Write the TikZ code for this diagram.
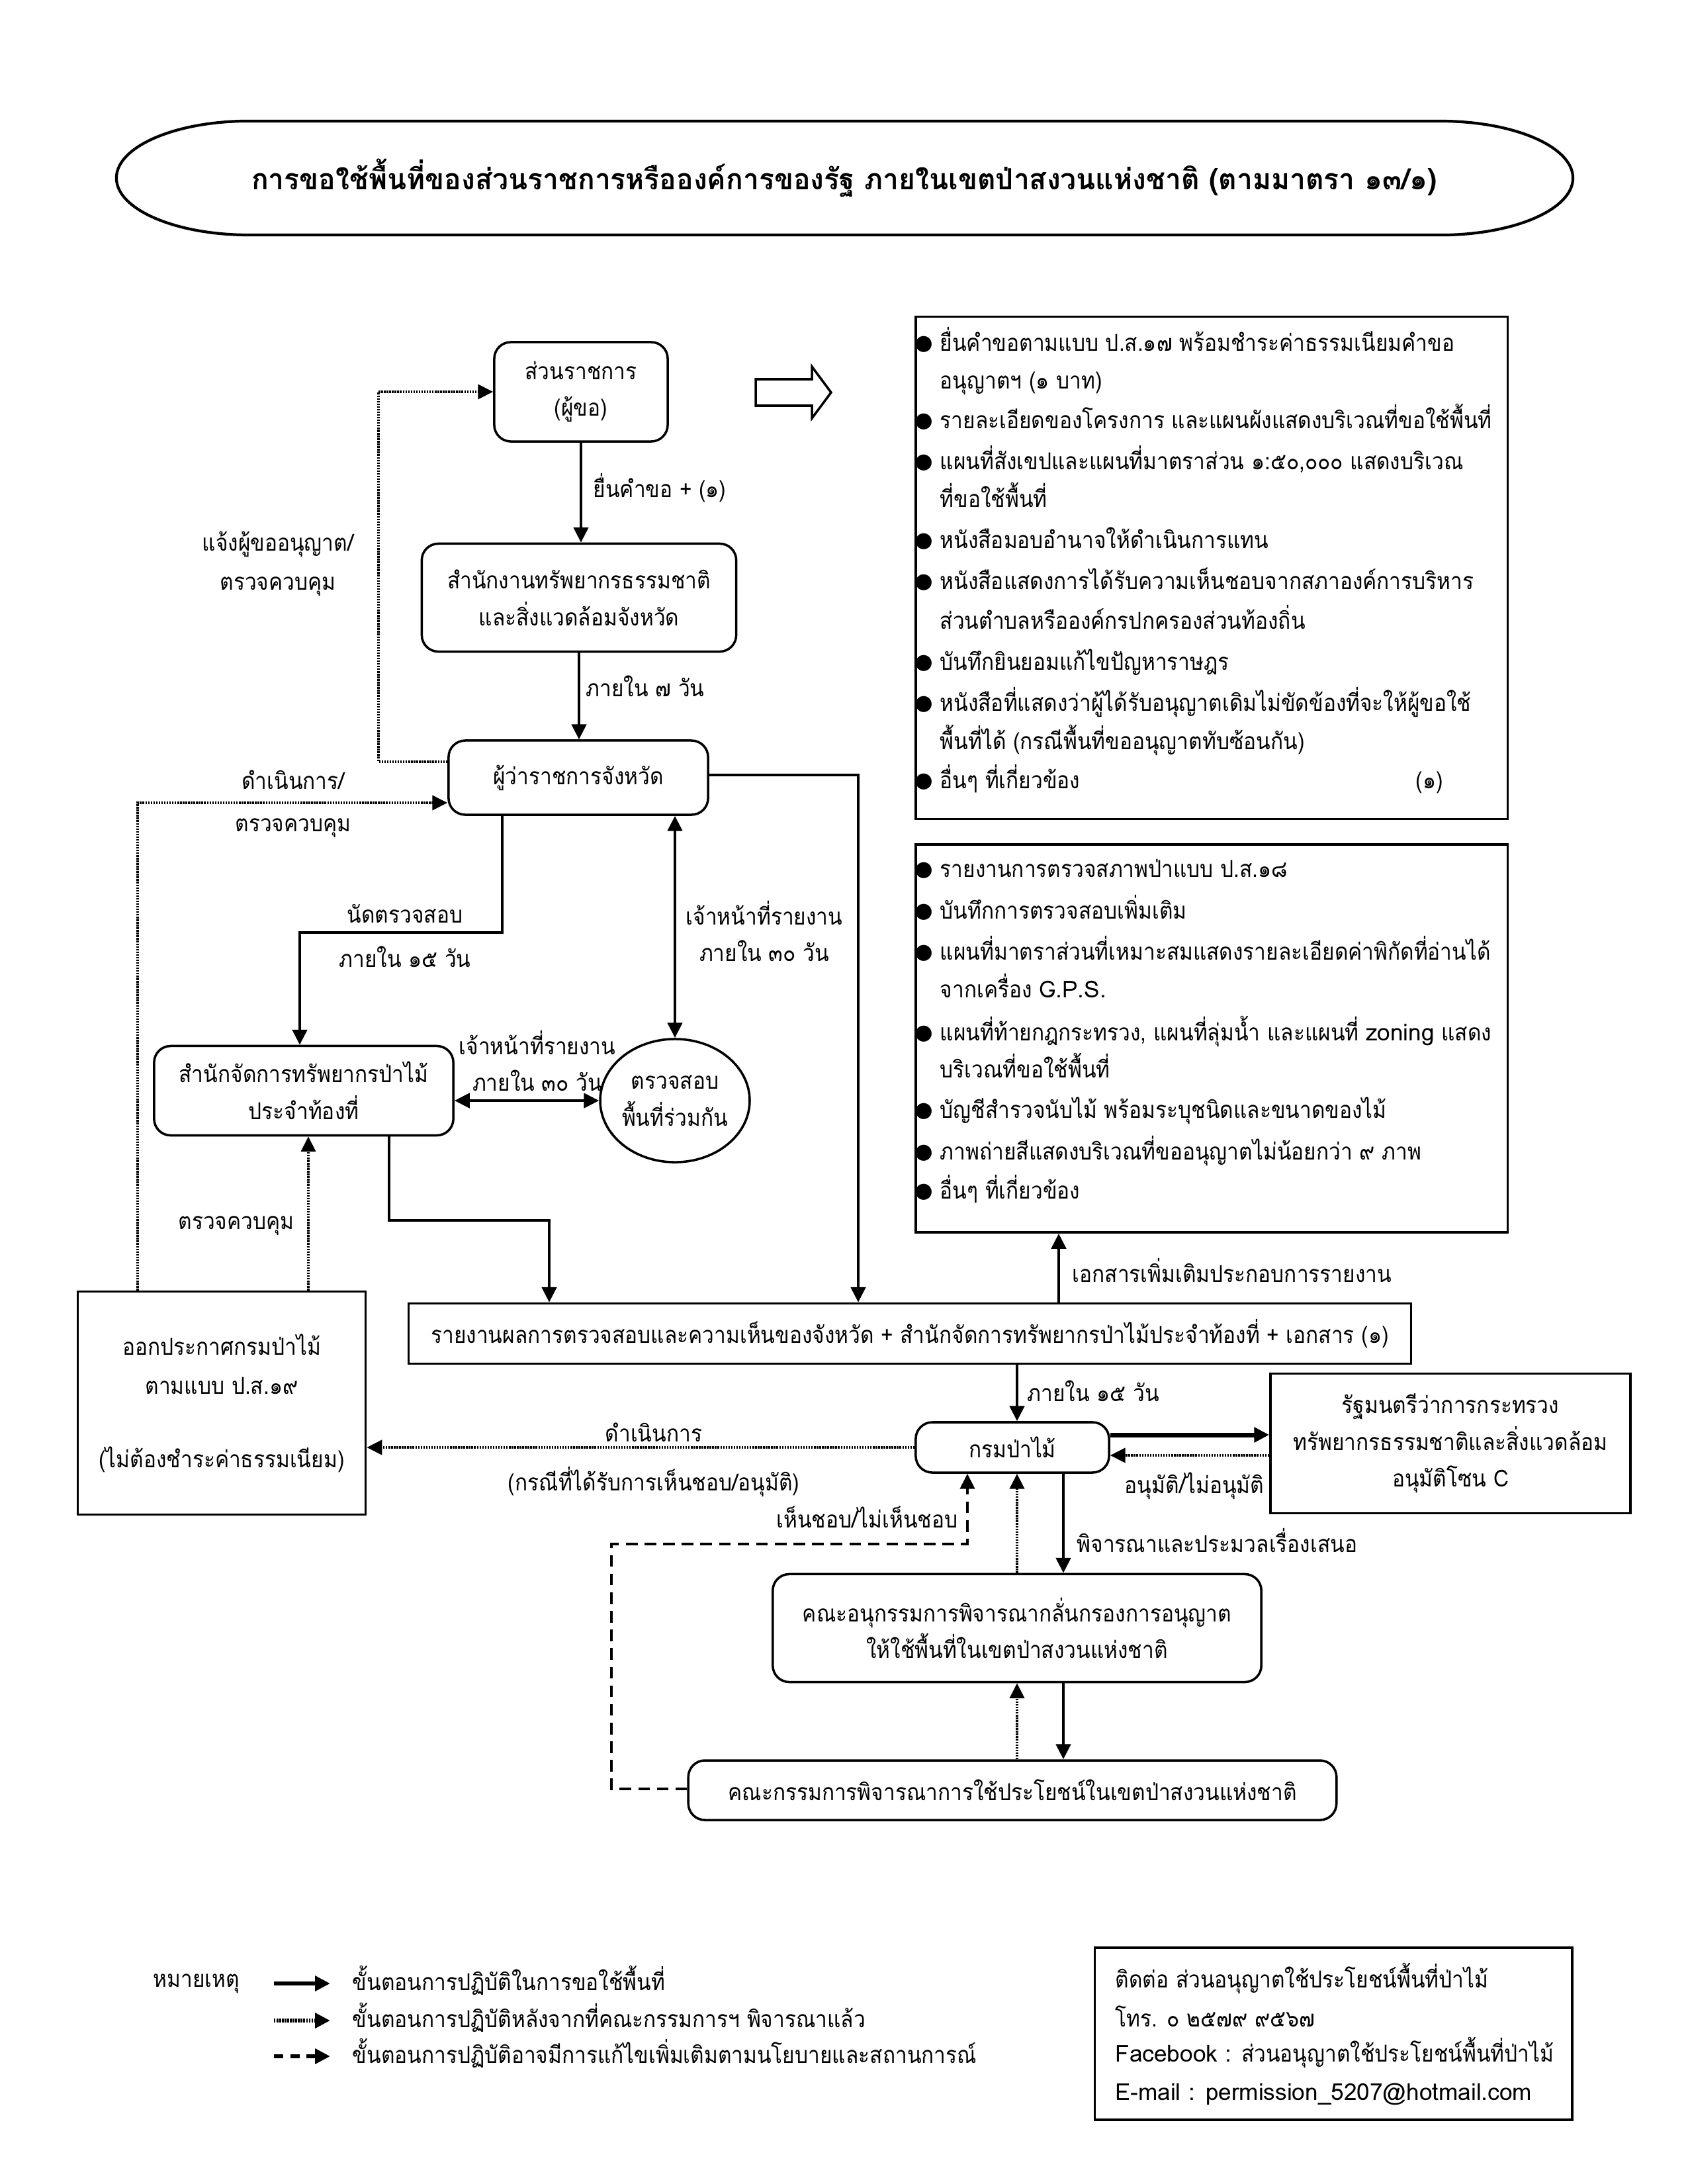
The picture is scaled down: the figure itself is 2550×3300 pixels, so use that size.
\documentclass[tikz,border=0pt]{standalone}
\usepackage{fontspec}
\usetikzlibrary{arrows.meta,shapes.geometric,calc}
\newfontfamily\thai[Script=Thai,FakeStretch=0.9]{Loma}
\newfontfamily\thaiw[Script=Thai]{Loma}
\newfontfamily\thait[Script=Thai,FakeStretch=0.97]{Loma}
\newfontfamily\dvs{DejaVu Sans}
\newcommand\bodyfont{\thai\fontsize{10}{15.8}\selectfont}
\newcommand\lat[1]{{\thaiw #1}}
\newcommand\titlefont{\thait\bfseries\fontsize{12.5}{15}\selectfont}
\begin{document}
\begin{tikzpicture}[x=0.01cm,y=-0.01cm,
  >={Triangle[length=6.5pt,width=6.3pt]},
  rbox/.style={draw, line width=1pt, rounded corners=0.25cm, align=center, font=\bodyfont, inner sep=0pt},
  sbox/.style={draw, line width=1pt, align=center, font=\bodyfont, inner sep=0pt},
  ell/.style={draw, ellipse, line width=1pt, align=center, font=\bodyfont, inner sep=0pt},
  lbl/.style={font=\bodyfont, inner sep=0pt, align=center},
  bul/.style={font=\dvs\fontsize{9}{9}\selectfont, inner sep=0pt},
  flow/.style={line width=1.2pt, ->},
  flowtwo/.style={line width=1.2pt, <->},
  dotflow/.style={line width=1pt, dash pattern=on 0.7pt off 0.45pt, ->},
  dashflow/.style={line width=1pt, dash pattern=on 5pt off 3pt, ->},
  thickflow/.style={line width=2pt, ->}
]
\fill[white] (0,0) rectangle (2550,3300);
\useasboundingbox (0,0) rectangle (2550,3300);

% title
\node[font=\titlefont, inner sep=0pt] (title) at (1276,269) {การขอใช้พื้นที่ของส่วนราชการหรือองค์การของรัฐ ภายในเขตป่าสงวนแห่งชาติ (ตามมาตรา ๑๓/๑)};
\draw[line width=1.2pt] (376,183) -- (2177,183) arc[start angle=90,end angle=-90,x radius=2cm,y radius=0.86cm]
  -- (376,355) arc[start angle=270,end angle=90,x radius=2cm,y radius=0.86cm] -- cycle;

% boxes
\node[rbox, minimum width=2.62cm, minimum height=1.50cm] (req) at (878,592) {ส่วนราชการ\\(ผู้ขอ)};
\node[rbox, minimum width=4.75cm, minimum height=1.63cm] (prov) at (875,903) {สำนักงานทรัพยากรธรรมชาติ\\และสิ่งแวดล้อมจังหวัด};
\node[rbox, minimum width=3.92cm, minimum height=1.12cm] (gov) at (874,1175) {ผู้ว่าราชการจังหวัด};
\node[rbox, minimum width=4.52cm, minimum height=1.35cm] (sk) at (459,1648) {สำนักจัดการทรัพยากรป่าไม้\\ประจำท้องที่};
\node[ell, minimum width=2.12cm, minimum height=1.86cm] (insp) at (1020,1663) {ตรวจสอบ\\พื้นที่ร่วมกัน};
\node[sbox, minimum width=15.14cm, minimum height=0.91cm] (report) at (1375,2015) {รายงานผลการตรวจสอบและความเห็นของจังหวัด + สำนักจัดการทรัพยากรป่าไม้ประจำท้องที่ + เอกสาร (๑)};
\node[sbox, minimum width=4.35cm, minimum height=3.37cm] (ann) at (335,2120) {ออกประกาศกรมป่าไม้\\[1.2pt]ตามแบบ ป.ส.๑๙\\[15.5pt](ไม่ต้องชำระค่าธรรมเนียม)};
\node[rbox, minimum width=2.92cm, minimum height=0.76cm] (forest) at (1530,2187) {กรมป่าไม้};
\node[sbox, minimum width=5.44cm, minimum height=2.11cm] (min) at (2192,2181) {รัฐมนตรีว่าการกระทรวง\\ทรัพยากรธรรมชาติและสิ่งแวดล้อม\\อนุมัติโซน C};
\node[rbox, minimum width=7.38cm, minimum height=1.63cm] (subc) at (1537,2460) {คณะอนุกรรมการพิจารณากลั่นกรองการอนุญาต\\ให้ใช้พื้นที่ในเขตป่าสงวนแห่งชาติ};
\node[rbox, minimum width=9.79cm, minimum height=0.90cm] (comm) at (1530,2705) {คณะกรรมการพิจารณาการใช้ประโยชน์ในเขตป่าสงวนแห่งชาติ};
\node[sbox, minimum width=8.94cm, minimum height=7.59cm] (list1) at (1831,858) {};
\node[sbox, minimum width=8.94cm, minimum height=5.86cm] (list2) at (1831,1569) {};
\node[sbox, minimum width=7.21cm, minimum height=2.60cm] (contact) at (2015,3073) {};

% hollow arrow
\draw[line width=1pt] (1142,573) -- (1227,573) -- (1227,554) -- (1256,593) -- (1227,632) -- (1227,613) -- (1142,613) -- cycle;

% list 1
\foreach \y [count=\i] in {520,637,699,818,880,1002,1064,1181} \node[bul] (ba\i) at (1396,\y) {●};
\foreach \y/\t [count=\i] in {
 520/{ยื่นคำขอตามแบบ ป.ส.๑๗ พร้อมชำระค่าธรรมเนียมคำขอ},
 577/{อนุญาตฯ (๑ บาท)},
 637/{รายละเอียดของโครงการ และแผนผังแสดงบริเวณที่ขอใช้พื้นที่},
 699/{แผนที่สังเขปและแผนที่มาตราส่วน ๑:๕๐,๐๐๐ แสดงบริเวณ},
 756/{ที่ขอใช้พื้นที่},
 818/{หนังสือมอบอำนาจให้ดำเนินการแทน},
 880/{หนังสือแสดงการได้รับความเห็นชอบจากสภาองค์การบริหาร},
 940/{ส่วนตำบลหรือองค์กรปกครองส่วนท้องถิ่น},
 1002/{บันทึกยินยอมแก้ไขปัญหาราษฎร},
 1064/{หนังสือที่แสดงว่าผู้ได้รับอนุญาตเดิมไม่ขัดข้องที่จะให้ผู้ขอใช้},
 1122/{พื้นที่ได้ (กรณีพื้นที่ขออนุญาตทับซ้อนกัน)},
 1181/{อื่นๆ ที่เกี่ยวข้อง}}
 \node[lbl, anchor=base west] (ta\i) at (1420,\y+10) {\t};
\node[lbl, anchor=base west] (ta13) at (2139,1191) {(๑)};

% list 2
\foreach \y [count=\i] in {1315,1378,1440,1562,1679,1742,1801} \node[bul] (bb\i) at (1396,\y) {●};
\foreach \y/\t [count=\i] in {
 1315/{รายงานการตรวจสภาพป่าแบบ ป.ส.๑๘},
 1378/{บันทึกการตรวจสอบเพิ่มเติม},
 1440/{แผนที่มาตราส่วนที่เหมาะสมแสดงรายละเอียดค่าพิกัดที่อ่านได้},
 1497/{จากเครื่อง \lat{G.P.S.}},
 1562/{แผนที่ท้ายกฎกระทรวง, แผนที่ลุ่มน้ำ และแผนที่ \lat{zoning} แสดง},
 1618/{บริเวณที่ขอใช้พื้นที่},
 1679/{บัญชีสำรวจนับไม้ พร้อมระบุชนิดและขนาดของไม้},
 1742/{ภาพถ่ายสีแสดงบริเวณที่ขออนุญาตไม่น้อยกว่า ๙ ภาพ},
 1801/{อื่นๆ ที่เกี่ยวข้อง}}
 \node[lbl, anchor=base west] (tb\i) at (1420,\y+10) {\t};

% labels
\node[lbl, anchor=base west] (l1) at (896,751) {ยื่นคำขอ + (๑)};
\node[lbl, anchor=base west] (l2) at (885,1052) {ภายใน ๗ วัน};
\node[lbl] (l3) at (420,852) {แจ้งผู้ขออนุญาต/\\[1pt]ตรวจควบคุม};
\node[lbl] (l4) at (443,1215) {ดำเนินการ/\\[2.4pt]ตรวจควบคุม};
\node[lbl] (l5) at (612,1414) {นัดตรวจสอบ\\[3pt]ภายใน ๑๕ วัน};
\node[lbl] (l6) at (1155,1407) {เจ้าหน้าที่รายงาน\\ภายใน ๓๐ วัน};
\node[lbl] (l7) at (812,1603) {เจ้าหน้าที่รายงาน\\ภายใน ๓๐ วัน};
\node[lbl, anchor=base west] (l8) at (1620,1937) {เอกสารเพิ่มเติมประกอบการรายงาน};
\node[lbl] (l9) at (357,1852) {ตรวจควบคุม};
\node[lbl, anchor=base west] (l10) at (1552,2117) {ภายใน ๑๕ วัน};
\node[lbl] (l11) at (1805,2245) {อนุมัติ/ไม่อนุมัติ};
\node[lbl] (l12) at (988,2164) {ดำเนินการ};
\node[lbl] (l13) at (988,2239) {(กรณีที่ได้รับการเห็นชอบ/อนุมัติ)};
\node[lbl, anchor=base east] (l14) at (1448,2308) {เห็นชอบ/ไม่เห็นชอบ};
\node[lbl, anchor=base west] (l15) at (1627,2345) {พิจารณาและประมวลเรื่องเสนอ};

% coordinates
\coordinate (c1) at (572,1151);
\coordinate (c2) at (208,1213);
\coordinate (c3) at (759,1409);
\coordinate (c4) at (453,1409);
\coordinate (c5) at (588,1844);
\coordinate (c6) at (830,1844);
\coordinate (c7) at (1297,1171);
\coordinate (c8) at (1600,1969);
\coordinate (c9) at (466,1951);
\coordinate (c10) at (1537,2061);
\coordinate (c11) at (1700,2168);
\coordinate (c12) at (1700,2199);
\coordinate (c14) at (924,2703);
\coordinate (c15) at (1462,2333);
\coordinate (c16) at (1607,2300);

% connectors
\draw[flow] (req.south) -- (req.south |- prov.north);
\draw[flow] (prov.south) -- (prov.south |- gov.north);
\draw[dotflow] (gov.west |- c1) -- (c1) |- (req.west);
\draw[dotflow] (ann.north -| c2) -- (c2) -- (c2 -| gov.west);
\draw[flow] (gov.south -| c3) -- (c3) -- (c4) -- (c4 |- sk.north);
\draw[flowtwo] (gov.south -| insp.north) -- (insp.north);
\draw[flowtwo] (sk.east |- insp.west) -- (insp.west);
\draw[flow] (sk.south -| c5) -- (c5) -- (c6) -- (c6 |- report.north);
\draw[flow] (gov.east |- c7) -- (c7) -- (c7 |- report.north);
\draw[flow] (report.north -| c8) -- (c8 |- list2.south);
\draw[dotflow] (ann.north -| c9) -- (c9 |- sk.south);
\draw[flow] (report.south -| c10) -- (c10 |- forest.north);
\draw[thickflow] (forest.east |- c11) -- (min.west |- c11);
\draw[dotflow] (min.west |- c12) -- (forest.east |- c12);
\draw[dotflow] (forest.west) -- (forest.west -| ann.east);
\draw[dashflow] (comm.west |- c14) -- (c14) -- (c14 |- c15) -- (c15) -- (c15 |- forest.south);
\draw[dotflow] (subc.north -| c10) -- (c10 |- forest.south);
\draw[flow] (forest.south -| c16) -- (c16 |- subc.north);
\draw[dotflow] (comm.north -| c10) -- (c10 |- subc.south);
\draw[flow] (subc.south -| c16) -- (c16 |- comm.north);

% legend
\node[lbl] (leg) at (297,2997) {หมายเหตุ};
\coordinate (g1a) at (414,2997); \coordinate (g1b) at (499,2997);
\coordinate (g2a) at (414,3053); \coordinate (g2b) at (499,3053);
\coordinate (g3a) at (414,3107); \coordinate (g3b) at (499,3107);
\draw[line width=1.6pt, ->] (g1a) -- (g1b);
\draw[line width=1.6pt, dash pattern=on 0.7pt off 0.45pt, ->] (g2a) -- (g2b);
\draw[line width=1.6pt, dash pattern=on 4pt off 3pt, ->] (g3a) -- (g3b);
\node[lbl, anchor=base west] (lg1) at (532,3007) {ขั้นตอนการปฏิบัติในการขอใช้พื้นที่};
\node[lbl, anchor=base west] (lg2) at (532,3063) {ขั้นตอนการปฏิบัติหลังจากที่คณะกรรมการฯ พิจารณาแล้ว};
\node[lbl, anchor=base west] (lg3) at (532,3117) {ขั้นตอนการปฏิบัติอาจมีการแก้ไขเพิ่มเติมตามนโยบายและสถานการณ์};

% contact
\node[lbl, anchor=base west] (ct1) at (1685,3003) {ติดต่อ ส่วนอนุญาตใช้ประโยชน์พื้นที่ป่าไม้};
\node[lbl, anchor=base west] (ct2) at (1685,3062) {โทร. ๐ ๒๕๗๙ ๙๕๖๗};
\node[lbl, anchor=base west] (ct3) at (1685,3115) {\lat{Facebook :} ส่วนอนุญาตใช้ประโยชน์พื้นที่ป่าไม้};
\node[lbl, anchor=base west] (ct4) at (1685,3173) {\lat{E-mail : permission\_5207@hotmail.com}};
\end{tikzpicture}
\end{document}
